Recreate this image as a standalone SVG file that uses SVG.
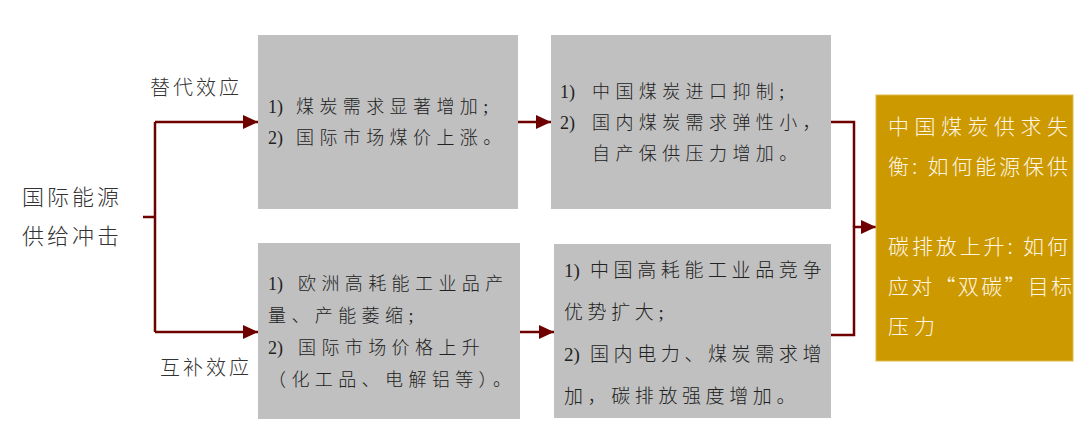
<svg xmlns="http://www.w3.org/2000/svg" width="1080" height="443" viewBox="0 0 1080 443">
<defs>
<marker id="arr" markerUnits="userSpaceOnUse" markerWidth="15" markerHeight="14" refX="15" refY="7" orient="auto">
<path d="M0 0 L15 7 L0 14 Z" fill="#6E0000"/>
</marker>
<style>
.box{fill:#C0C0C0}
.gold{fill:#CC9900;stroke:#E0B84A;stroke-width:1}
.lbl{font-family:"Noto Sans CJK SC","Liberation Sans",sans-serif;font-weight:300;fill:#333;letter-spacing:3px}
.t{font-family:"Liberation Serif","Noto Sans CJK SC",serif;font-weight:300;font-size:18px;fill:#222;letter-spacing:5.4px}
.t4{font-family:"Liberation Serif","Noto Sans CJK SC",serif;font-weight:300;font-size:19px;fill:#222;letter-spacing:4.6px}
.n{letter-spacing:0}
.w{font-family:"Noto Sans CJK SC",sans-serif;font-weight:300;font-size:21px;fill:#FFF6E4}
.c{fill:none;stroke:#6E0000;stroke-width:2.5}
</style>
</defs>
<rect width="1080" height="443" fill="#FFFFFF"/>

<g id="connectors">
<path class="c" d="M143 217 H155"/>
<path class="c" d="M155 122 V332"/>
<path class="c" d="M155 122 H258" marker-end="url(#arr)"/>
<path class="c" d="M155 332 H258" marker-end="url(#arr)"/>
<path class="c" d="M518 122 H551" marker-end="url(#arr)"/>
<path class="c" d="M520 332 H554" marker-end="url(#arr)"/>
<path class="c" d="M831 122 H854 V227"/>
<path class="c" d="M831 335 H854 V227 H876" marker-end="url(#arr)"/>
</g>

<g id="source">
<text class="lbl" font-size="22" letter-spacing="2.7" x="22" y="205">国际能源</text>
<text class="lbl" font-size="22" letter-spacing="2.7" x="22" y="244">供给冲击</text>
</g>

<g id="label-substitution">
<text class="lbl" font-size="20" x="150" y="95">替代效应</text>
</g>

<g id="label-complement">
<text class="lbl" font-size="20" x="160" y="375">互补效应</text>
</g>

<g id="box1">
<rect class="box" x="258" y="35" width="260" height="174"/>
<text class="t" x="268" y="113"><tspan class="n">1)</tspan><tspan x="296">煤炭需求显著增加;</tspan></text>
<text class="t" x="268" y="144"><tspan class="n">2)</tspan><tspan x="296">国际市场煤价上涨。</tspan></text>
</g>

<g id="box2">
<rect class="box" x="551" y="35" width="280" height="174"/>
<text class="t" x="560" y="98"><tspan class="n">1)</tspan><tspan x="592">中国煤炭进口抑制;</tspan></text>
<text class="t" x="560" y="129"><tspan class="n">2)</tspan><tspan x="592">国内煤炭需求弹性小，</tspan></text>
<text class="t" x="592" y="160">自产保供压力增加。</text>
</g>

<g id="box3">
<rect class="box" x="258" y="243" width="262" height="176"/>
<text class="t" x="268" y="290"><tspan class="n">1)</tspan><tspan x="298">欧洲高耗能工业品产</tspan></text>
<text class="t" x="268" y="322">量、产能萎缩;</text>
<text class="t" x="268" y="354"><tspan class="n">2)</tspan><tspan x="298">国际市场价格上升</tspan></text>
<text class="t" x="268" y="386">（化工品、电解铝等）。</text>
</g>

<g id="box4">
<rect class="box" x="554" y="244" width="277" height="174"/>
<text class="t4" x="564" y="277"><tspan class="n">1)</tspan><tspan x="590">中国高耗能工业品竞争</tspan></text>
<text class="t4" x="564" y="319">优势扩大;</text>
<text class="t4" x="564" y="361"><tspan class="n">2)</tspan><tspan x="590">国内电力、煤炭需求增</tspan></text>
<text class="t4" x="564" y="403">加，碳排放强度增加。</text>
</g>

<g id="box5" lang="zh-CN">
<rect class="gold" x="876" y="95" width="197" height="266"/>
<text class="w" x="888" y="134" textLength="180" lengthAdjust="spacing">中国煤炭供求失</text>
<text class="w" x="888" y="174" textLength="180" lengthAdjust="spacing">衡: 如何能源保供</text>
<text class="w" x="888" y="254" textLength="180" lengthAdjust="spacing">碳排放上升: 如何</text>
<text class="w" x="888" y="294" textLength="184" lengthAdjust="spacing">应对“双碳”目标</text>
<text class="w" x="888" y="334" letter-spacing="5">压力</text>
</g>
</svg>
